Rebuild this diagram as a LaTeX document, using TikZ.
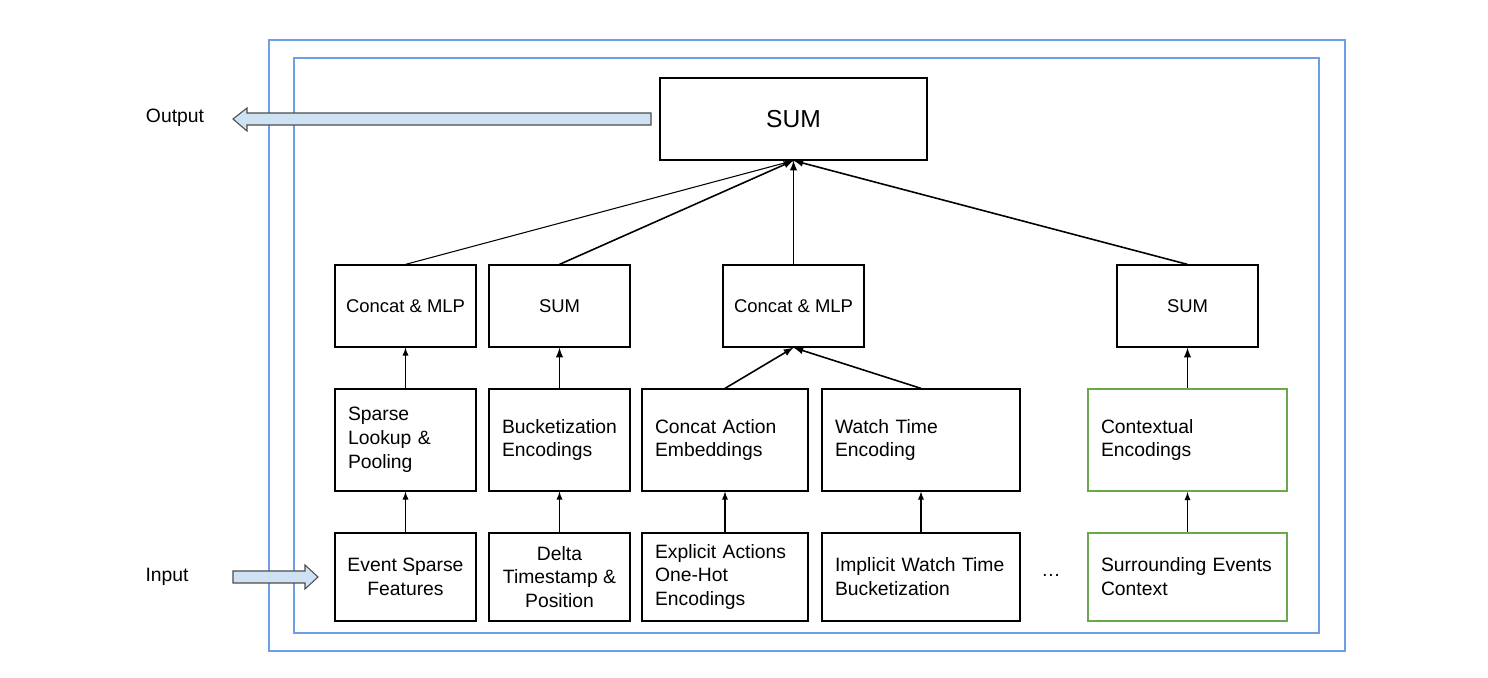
\documentclass[tikz,border=0pt]{standalone}
\usepackage{fontspec}
\setmainfont{Liberation Sans}
\usetikzlibrary{arrows}
\definecolor{frameblue}{HTML}{6D9EEB}
\definecolor{boxgreen}{HTML}{6AA84F}
\definecolor{arrowfill}{HTML}{CFE2F3}
\begin{document}
\begin{tikzpicture}[x=0.02cm,y=-0.02cm]
    \tikzstyle{box}=[draw=black,line width=0.7pt,minimum width=2.82cm,inner sep=0pt,font=\fontsize{11}{13.6}\selectfont]
    \tikzstyle{lbox}=[box,align=left]
    \tikzstyle{cbox}=[box,align=center]
    \tikzstyle{green}=[draw=boxgreen,line width=1.3pt]
    \tikzstyle{frame}=[draw=frameblue,line width=1.2pt]
    \tikzstyle{vectors}=[-latex,line width=0.6pt]
    \tikzstyle{rvectors}=[-latex,line width=0.9pt]
    \tikzstyle{fat}=[draw=black!70,fill=arrowfill,line width=0.6pt]
    \useasboundingbox (0,0) rectangle (1488,678);
    \draw[frame] (269,40) rectangle (1345,651);
    \draw[frame] (294,58) rectangle (1319,633);

    \node[cbox,minimum width=5.34cm,minimum height=1.64cm,font=\fontsize{14}{16}\selectfont] (topsum) at (793.5,119) {SUM};

    \node[cbox,minimum height=1.64cm,font=\fontsize{10.5}{13}\selectfont] (cm1) at (405.5,306) {Concat \& MLP};
    \node[cbox,minimum height=1.64cm,font=\fontsize{10.5}{13}\selectfont] (sum1) at (559.5,306) {SUM};
    \node[cbox,minimum height=1.64cm,font=\fontsize{10.5}{13}\selectfont] (cm2) at (793.5,306) {Concat \& MLP};
    \node[cbox,minimum height=1.64cm,font=\fontsize{10.5}{13}\selectfont] (sum2) at (1187.5,306) {SUM};

    \node[lbox,minimum height=2.04cm,text width=2.30cm,inner xsep=0.26cm] (lookup) at (405.5,440) {Sparse\\Lookup \&\\Pooling};
    \node[lbox,minimum height=2.04cm,text width=2.30cm,inner xsep=0.26cm] (bucket) at (559.5,440) {Bucketization\\Encodings};
    \node[lbox,minimum height=2.04cm,text width=2.80cm,inner xsep=0.26cm] (action) at (725,440) {Concat Action\\Embeddings};
    \node[lbox,minimum height=2.04cm,text width=3.44cm,inner xsep=0.26cm] (watch) at (921,440) {Watch Time\\Encoding};
    \node[lbox,green,minimum height=2.04cm,text width=3.46cm,inner xsep=0.26cm] (context) at (1187.5,440) {Contextual\\Encodings};

    \node[cbox,minimum height=1.76cm] (event) at (405.5,577) {Event Sparse\\Features};
    \node[cbox,minimum height=1.76cm] (delta) at (559.5,577) {Delta\\Timestamp \&\\Position};
    \node[lbox,minimum height=1.76cm,text width=2.80cm,inner xsep=0.26cm] (explicit) at (725,577) {Explicit Actions\\One-Hot\\Encodings};
    \node[lbox,minimum height=1.76cm,text width=3.44cm,inner xsep=0.26cm] (implicit) at (921,577) {Implicit Watch Time\\Bucketization};
    \node[lbox,green,minimum height=1.76cm,text width=3.46cm,inner xsep=0.26cm] (surround) at (1187.5,577) {Surrounding Events\\Context};
    \node[font=\fontsize{11}{13}\selectfont] (dots) at (1051,575) {\dots};

    \node[font=\fontsize{11}{13}\selectfont] (outlbl) at (175,118) {Output};
    \node[font=\fontsize{11}{13}\selectfont] (inlbl) at (167,577) {Input};

    % top level
    \draw[vectors] (cm1.north) -- (topsum.south);
    \draw[rvectors] (sum1.north) -- (topsum.south);
    \draw[rvectors] (cm2.north) -- (topsum.south);
    \draw[rvectors] (sum2.north) -- (topsum.south);
    % middle
    \draw[vectors] (lookup.north) -- (cm1.south);
    \draw[rvectors] (bucket.north) -- (sum1.south);
    \draw[rvectors] (action.north) -- (cm2.south);
    \draw[rvectors] (watch.north) -- (cm2.south);
    \draw[rvectors] (context.north) -- (sum2.south);
    % bottom
    \draw[vectors] (event.north) -- (lookup.south);
    \draw[vectors] (delta.north) -- (bucket.south);
    \draw[vectors] (explicit.north) -- (action.south);
    \draw[vectors] (implicit.north) -- (watch.south);
    \draw[vectors] (surround.north) -- (context.south);

    % block arrows
    \coordinate (outtail) at (651,119);
    \coordinate (intail) at (233,577);
    \draw[fat] (outtail) ++(0,-6) -- (247,113) -- (247,108) -- (233,119) -- (247,131) -- (247,125) -- (651,125) -- cycle;
    \draw[fat] (intail) ++(0,-6) -- (305,571) -- (305,565) -- (318,577) -- (305,589) -- (305,583) -- (233,583) -- cycle;
\end{tikzpicture}
\end{document}
